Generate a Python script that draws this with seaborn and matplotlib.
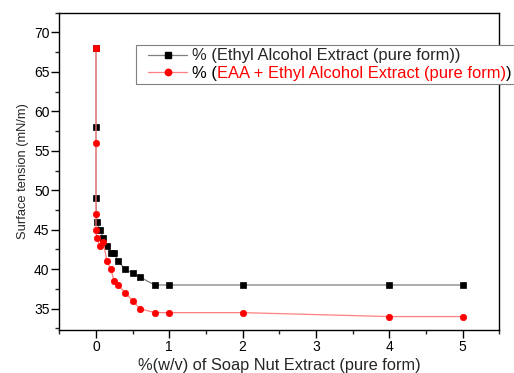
import matplotlib
matplotlib.use("Agg")
import matplotlib.pyplot as plt
from matplotlib.lines import Line2D
from matplotlib.legend_handler import HandlerLine2D
from matplotlib.ticker import MultipleLocator
import seaborn as sns
import pandas as pd

# Surface tension vs. concentration of soap nut extract
conc_eth = [0, 0, 0, 0.01, 0.05, 0.1, 0.15, 0.2, 0.25, 0.3, 0.4, 0.5, 0.6, 0.8, 1, 2, 4, 5]
st_eth = [68, 58, 49, 46, 45, 44, 43, 42, 42, 41, 40, 39.5, 39, 38, 38, 38, 38, 38]

conc_eaa = [0, 0, 0, 0, 0.01, 0.05, 0.1, 0.15, 0.2, 0.25, 0.3, 0.4, 0.5, 0.6, 0.8, 1, 2, 4, 5]
st_eaa = [68, 56, 47, 45, 44, 43, 43.4, 41, 40, 38.5, 38, 37, 36, 35, 34.5, 34.5, 34.5, 34, 34]

label_eth = "% (Ethyl Alcohol Extract (pure form))"
label_eaa_pre = "% ("
label_eaa_mid = "EAA + Ethyl Alcohol Extract (pure form)"
label_eaa_post = ")"
x_label = "%(w/v) of Soap Nut Extract (pure form)"
y_label = "Surface tension (mN/m)"

sns.set_style("ticks")
plt.rcParams["font.family"] = ["Liberation Sans", "DejaVu Sans"]

fig = plt.figure(figsize=(5.14, 3.73), dpi=100)
ax = fig.add_axes([0.1154, 0.1153, 0.8560, 0.8507])

df_eth = pd.DataFrame({"x": conc_eth, "y": st_eth})
df_eaa = pd.DataFrame({"x": conc_eaa, "y": st_eaa})

sns.lineplot(data=df_eth, x="x", y="y", estimator=None, sort=False, ax=ax,
             color="#7f7f7f", linewidth=0.9, marker="s", markersize=4.0,
             markerfacecolor="black", markeredgecolor="black", markeredgewidth=0.5)
sns.lineplot(data=df_eaa, x="x", y="y", estimator=None, sort=False, ax=ax,
             color="#ff8080", linewidth=0.9, marker="o", markersize=4.6,
             markerfacecolor="red", markeredgecolor="red", markeredgewidth=0.5,
             markevery=list(range(1, len(conc_eaa))))
# the shared starting point is drawn as a red square
ax.plot(conc_eaa[:1], st_eaa[:1], linestyle="none", marker="s", markersize=4.6,
        color="red", markeredgewidth=0.5)

ax.set_xlim(-0.5, 5.5)
ax.set_ylim(32.3, 72.5)
ax.xaxis.set_major_locator(MultipleLocator(1))
ax.xaxis.set_minor_locator(MultipleLocator(0.5))
ax.yaxis.set_major_locator(MultipleLocator(5))
ax.yaxis.set_minor_locator(MultipleLocator(2.5))
ax.tick_params(which="major", direction="out", length=5.5, width=1, labelsize=10,
               pad=1.5, colors="black")
ax.tick_params(which="minor", direction="out", length=2.8, width=1)
ax.tick_params(top=False, right=False)
for s in ax.spines.values():
    s.set_visible(True)
    s.set_color("black")
    s.set_linewidth(1.0)

ax.set_xlabel(x_label, fontsize=11.8, labelpad=3)
ax.set_ylabel(y_label, fontsize=9.3, labelpad=4)

leg_fs = 11.9
handles = [
    Line2D([], [], color="#7f7f7f", linewidth=0.9, marker="s", markersize=4.0,
           markerfacecolor="black", markeredgecolor="black"),
    Line2D([], [], color="#ff8080", linewidth=0.9, marker="o", markersize=4.6,
           markerfacecolor="red", markeredgecolor="red"),
]
full_eaa = label_eaa_pre + label_eaa_mid + label_eaa_post
leg = ax.legend(handles, [label_eth, full_eaa], loc="upper left",
                bbox_to_anchor=(0.174, 0.898), borderaxespad=0, fontsize=leg_fs,
                frameon=True, fancybox=False, edgecolor="#808080", framealpha=1,
                handlelength=2.88, handletextpad=0.3, labelspacing=0.15,
                borderpad=0.2,
                handler_map={Line2D: HandlerLine2D(xpad=0.55)})
leg.get_frame().set_linewidth(0.8)
leg.set_clip_on(False)

# second legend entry in two colours, laid over the (hidden) full label
slot = leg.get_texts()[1]
slot.set_alpha(0)
pre = ax.annotate(label_eaa_pre, xy=(0, 0), xycoords=slot, va="bottom", ha="left",
                  color="black", fontsize=leg_fs, annotation_clip=False, zorder=10)
mid = ax.annotate(label_eaa_mid, xy=(1, 0), xycoords=pre, va="bottom", ha="left",
                  color="red", fontsize=leg_fs, annotation_clip=False, zorder=11)
ax.annotate(label_eaa_post, xy=(1, 0), xycoords=mid, va="bottom", ha="left",
            color="black", fontsize=leg_fs, annotation_clip=False, zorder=12)

fig.savefig("out.png", dpi=100)
